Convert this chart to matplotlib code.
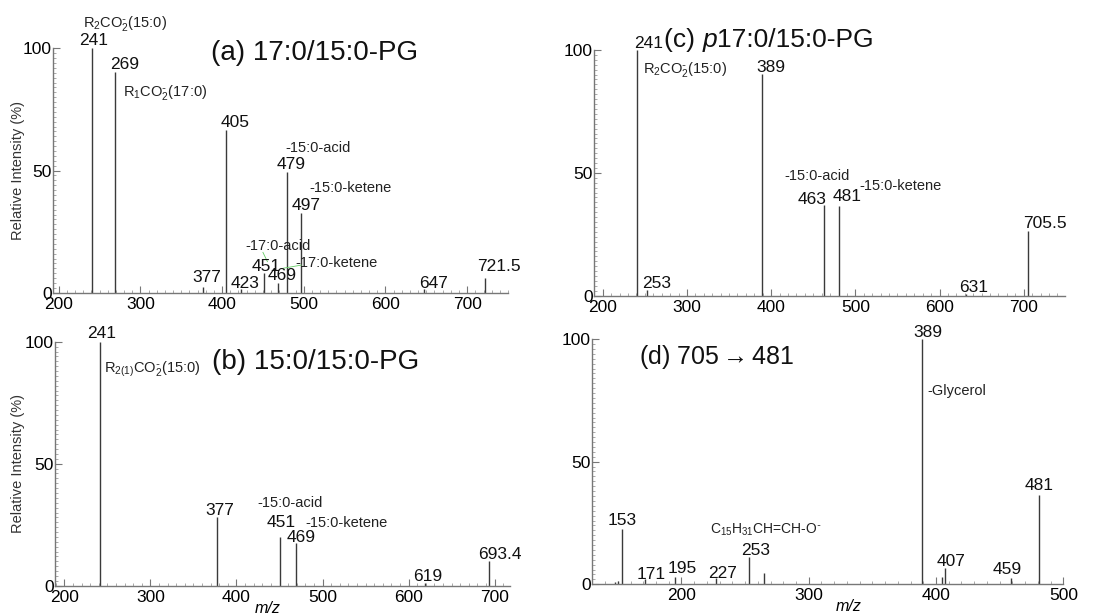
import matplotlib
matplotlib.use('Agg')
import matplotlib.pyplot as plt
from matplotlib.ticker import MultipleLocator

plt.rcParams['font.family'] = ['Liberation Sans', 'DejaVu Sans']
plt.rcParams['mathtext.fontset'] = 'custom'
plt.rcParams['mathtext.rm'] = 'Liberation Sans'
plt.rcParams['mathtext.it'] = 'Liberation Sans:italic'

# ---- data (m/z, relative intensity %) ----
a_mz = [241, 269, 377, 405, 423, 451, 469, 479, 497, 647, 721.5]
a_int = [100, 90.4, 2.2, 66.6, 1.5, 8.0, 3.8, 49.5, 32.7, 1.5, 5.9]
a_lab = ['241', '269', '377', '405', '423', '451', '469', '479', '497', '647', '721.5']

c_mz = [241, 253, 389, 463, 481, 631, 705.5]
c_int = [100, 2.3, 90.2, 36.9, 36.6, 0.5, 26.5]
c_lab = ['241', '253', '389', '463', '481', '631', '705.5']

b_mz = [241, 377, 451, 469, 619, 693.4]
b_int = [100, 28.0, 19.8, 17.4, 1.0, 10.2]
b_lab = ['241', '377', '451', '469', '619', '693.4']

d_mz = [148, 150, 153, 171, 195, 227, 253, 265, 389, 405, 407, 459, 481]
d_int = [1.0, 1.5, 22.4, 2.0, 3.0, 2.5, 11.0, 4.5, 100, 3.0, 6.5, 2.5, 36.4]
d_lab = ['', '', '153', '171', '195', '227', '253', '', '389', '', '407', '459', '481']

# label offsets in pixels (dx, dy) from peak top
a_off = [(1, 8), (10, 7), (3, 10), (9, 7), (4, 6), (2, 7), (4, 8), (4, 7), (5, 7), (10, 6), (14, 12)]
c_off = [(11, 7), (9, 7), (9, 7), (-12, 6), (8, 9), (8, 7), (17, 7)]
b_off = [(2, 8), (3, 7), (1, 15), (5, 6), (3, 7), (11, 6)]
d_off = [(0, 0), (0, 0), (1, 9), (7, 5), (7, 8), (7, 5), (7, 7), (0, 0), (6, 7), (0, 0), (6, 7), (-4, 9), (0, 10)]

fig = plt.figure(figsize=(11.18, 6.16), dpi=100)
ax_a = fig.add_axes([0.0474, 0.5248, 0.407, 0.3968])
ax_c = fig.add_axes([0.5316, 0.5200, 0.421, 0.3988])
ax_b = fig.add_axes([0.0492, 0.0492, 0.407, 0.3960])
ax_d = fig.add_axes([0.5298, 0.0515, 0.4213, 0.3980])


def spectrum(ax, mz, inten, labels, offs, xlim):
    ax.vlines(mz, 0, inten, color='#3a3a3a', lw=1.0)
    for m, i, lab, (dx, dy) in zip(mz, inten, labels, offs):
        if lab:
            ax.annotate(lab, xy=(m, i), xytext=(dx, dy), textcoords='offset pixels',
                        ha='center', va='center', fontsize=12.5, color='#111111')
    ax.set_xlim(*xlim)
    ax.set_ylim(0, 100)
    for s in ['top', 'right']:
        ax.spines[s].set_visible(False)
    for s in ['left', 'bottom']:
        ax.spines[s].set_color('#777777')
        ax.spines[s].set_linewidth(1.0)
    ax.xaxis.set_major_locator(MultipleLocator(100))
    ax.xaxis.set_minor_locator(MultipleLocator(10))
    ax.yaxis.set_major_locator(MultipleLocator(50))
    ax.yaxis.set_minor_locator(MultipleLocator(2))
    ax.tick_params(which='major', direction='in', length=5, width=0.8, color='#777777',
                   labelsize=12.5)
    ax.tick_params(axis='x', which='major', pad=3)
    ax.tick_params(axis='y', which='major', pad=1)
    ax.tick_params(which='minor', direction='in', length=2.5, width=0.5, color='#888888')
    ax.patch.set_alpha(0)


spectrum(ax_a, a_mz, a_int, a_lab, a_off, (193, 750))
spectrum(ax_c, c_mz, c_int, c_lab, c_off, (190, 749))
spectrum(ax_b, b_mz, b_int, b_lab, b_off, (189, 718))
spectrum(ax_d, d_mz, d_int, d_lab, d_off, (130, 500))

for ax, x in ((ax_a, -0.062), (ax_b, -0.066)):
    ax.set_ylabel('Relative Intensity (%)', fontsize=10.5, color='#333333')
    ax.yaxis.set_label_coords(x, 0.5)
for ax, x in ((ax_b, 0.468), (ax_d, 0.544)):
    ax.set_xlabel('m/z', fontsize=11.5, style='italic')
    ax.xaxis.set_label_coords(x, -0.062)

small = dict(fontsize=10.5, color='#222222', va='center')
R2 = r'R$_2$CO$_2^{\bar{\ }}$(15:0)'

# (a)
ax_a.text(387, 98, '(a) 17:0/15:0-PG', fontsize=20, va='center', color='#111111')
ax_a.text(281, 110, R2, ha='center', clip_on=False, **small)
ax_a.text(279, 82, r'R$_1$CO$_2^{\bar{\ }}$(17:0)', ha='left', **small)
ax_a.text(478, 59.3, '-15:0-acid', ha='left', **small)
ax_a.text(507, 42.7, '-15:0-ketene', ha='left', **small)
ax_a.text(428, 19.2, '-17:0-acid', ha='left', **small)
ax_a.text(490, 12, '-17:0-ketene', ha='left', **small)
ax_a.plot([450, 455.5], [16.5, 12.7], color='#66cc66', lw=0.6)
ax_a.plot([497, 474.6], [11.3, 10], color='#66cc66', lw=0.6)

# (c) title in three pieces so that only the "p" is italic
t1 = ax_c.text(273, 104, '(c) ', fontsize=19, va='center', color='#111111', clip_on=False)
t2 = ax_c.annotate('p', xy=(1, 0.5), xycoords=t1, ha='left', va='center', fontsize=19,
                   style='italic', color='#111111')
ax_c.annotate('17:0/15:0-PG', xy=(1, 0.5), xycoords=t2, ha='left', va='center', fontsize=19,
              color='#111111')
ax_c.text(247.4, 91.9, R2, ha='left', **small)
ax_c.text(454, 48.8, '-15:0-acid', ha='center', **small)
ax_c.text(504.7, 44.6, '-15:0-ketene', ha='left', **small)

# (b)
ax_b.text(371, 91.9, '(b) 15:0/15:0-PG', fontsize=20, va='center', color='#111111')
ax_b.text(245.6, 88.5, r'R$_{2(1)}$CO$_2^{\bar{\ }}$(15:0)', ha='left', **small)
ax_b.text(462, 33.8, '-15:0-acid', ha='center', **small)
ax_b.text(480.5, 25.6, '-15:0-ketene', ha='left', **small)

# (d)
ax_d.text(167, 92.8, r'(d) 705$\rightarrow$481', fontsize=18, va='center', color='#111111')
ax_d.text(393.3, 78.9, '-Glycerol', ha='left', **small)
ax_d.text(222.6, 22.4, r'C$_{15}$H$_{31}$CH=CH-O$^{\bar{\ }}$', ha='left', fontsize=10,
          color='#222222', va='center')

fig.savefig('out.png', dpi=100)
